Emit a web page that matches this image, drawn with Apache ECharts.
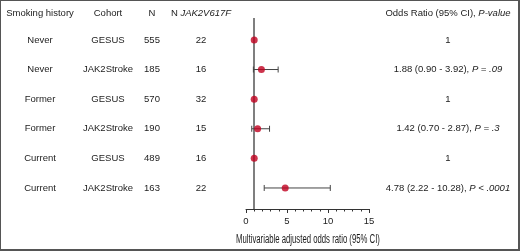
<!DOCTYPE html>
<html>
<head>
<meta charset="utf-8">
<script src="https://cdn.jsdelivr.net/npm/echarts@6/dist/echarts.min.js"></script>
<style>
  html, body { margin: 0; padding: 0; background: #fff; }
  #chart { width: 520px; height: 251px; }
  #frame { position: absolute; left: 0; top: 0; width: 520px; height: 251px; box-sizing: border-box;
           border: 1px solid #555; border-bottom-width: 2px; border-right-width: 2px; pointer-events: none; }
</style>
</head>
<body>
<div id="chart"></div>
<div id="frame"></div>
<script>
// table + forest data
var smoking = ['Never', 'Never', 'Former', 'Former', 'Current', 'Current'];
var cohorts = ['GESUS', 'JAK2Stroke', 'GESUS', 'JAK2Stroke', 'GESUS', 'JAK2Stroke'];
var nTotal = [555, 185, 570, 190, 489, 163];
var nMutant = [22, 16, 32, 15, 16, 22];
var oddsRatio = [1, 1.88, 1, 1.42, 1, 4.78];
var ciLow = [null, 0.90, null, 0.70, null, 2.22];
var ciHigh = [null, 3.92, null, 2.87, null, 10.28];
var pValues = [null, 'P = .09', null, 'P = .3', null, 'P < .0001'];
var xTicks = [0, 5, 10, 15];

var FONT = '"Liberation Sans", Arial, Helvetica, sans-serif';
var TEXT = '#222';
var colX = [40, 108, 152, 201, 448];

var chart = echarts.init(document.getElementById('chart'));

function orText(i) {
  if (ciLow[i] === null) return String(oddsRatio[i]);
  return oddsRatio[i].toFixed(2) + ' (' + ciLow[i].toFixed(2) + ' - ' + ciHigh[i].toFixed(2) + '), {i|' + pValues[i] + '}';
}

function txt(x, y, s) {
  return {
    type: 'text', x: x, y: y,
    style: {
      text: s, fill: TEXT, font: '9.5px ' + FONT, align: 'center', verticalAlign: 'middle',
      rich: { i: { fontStyle: 'italic', fontSize: 9.5, fontFamily: FONT, fill: TEXT } }
    }
  };
}

var rowIdx = smoking.map(function (s, i) { return i; });

var option = {
  animation: false,
  grid: { left: 246, right: 151, top: 18, bottom: 42 },
  xAxis: {
    type: 'value', min: 0, max: 15, interval: 5,
    axisLine: { show: true, onZero: false, lineStyle: { color: '#333', width: 1 } },
    axisTick: { show: true, length: 4, lineStyle: { color: '#333' } },
    minorTick: { show: true, splitNumber: 5, length: 2.5, lineStyle: { color: '#333' } },
    splitLine: { show: false },
    axisLabel: { color: TEXT, fontSize: 9.5, fontFamily: FONT, margin: 7,
      formatter: function (v) { return xTicks.indexOf(v) >= 0 ? String(v) : ''; } }
  },
  yAxis: { type: 'value', inverse: true, min: -0.74, max: 5.71, show: false },
  graphic: [
    txt(colX[0], 13, 'Smoking history'),
    txt(colX[1], 13, 'Cohort'),
    txt(colX[2], 13, 'N'),
    txt(colX[3], 13, 'N {i|JAK2V617F}'),
    txt(colX[4], 13, 'Odds Ratio (95% CI), {i|P-value}'),
    {
      // condensed axis title (no narrow font installed, so squeeze it)
      type: 'text', x: 308, y: 240, scaleX: 0.62,
      style: { text: 'Multivariable adjusted odds ratio (95% CI)', fill: '#1a1a1a',
        font: '12.5px ' + FONT, align: 'center', verticalAlign: 'middle' }
    }
  ],
  series: [
    {
      type: 'custom', clip: false, silent: true,
      data: rowIdx.map(function (i) { return [0, i]; }),
      renderItem: function (params, api) {
        var i = api.value(1);
        var y = api.coord([0, i])[1];
        return {
          type: 'group',
          children: [
            txt(colX[0], y, smoking[i]),
            txt(colX[1], y, cohorts[i]),
            txt(colX[2], y, String(nTotal[i])),
            txt(colX[3], y, String(nMutant[i])),
            txt(colX[4], y, orText(i))
          ]
        };
      }
    },
    {
      type: 'custom', silent: true, clip: false,
      data: rowIdx.filter(function (i) { return ciLow[i] !== null; })
                  .map(function (i) { return [ciLow[i], ciHigh[i], i]; }),
      renderItem: function (params, api) {
        var a = api.coord([api.value(0), api.value(2)]);
        var b = api.coord([api.value(1), api.value(2)]);
        var st = { stroke: '#444', lineWidth: 1 };
        return {
          type: 'group',
          children: [
            { type: 'line', shape: { x1: a[0], y1: a[1], x2: b[0], y2: b[1] }, style: st },
            { type: 'line', shape: { x1: a[0], y1: a[1] - 3, x2: a[0], y2: a[1] + 3 }, style: st },
            { type: 'line', shape: { x1: b[0], y1: b[1] - 3, x2: b[0], y2: b[1] + 3 }, style: st }
          ]
        };
      }
    },
    {
      type: 'scatter', symbolSize: 7, z: 5,
      itemStyle: { color: '#c0001f' },
      data: rowIdx.map(function (i) { return [oddsRatio[i], i]; }),
      markLine: {
        silent: true, symbol: 'none', label: { show: false }, z: 1,
        lineStyle: { color: '#555', width: 1.5, type: 'solid' },
        data: [{ xAxis: 1 }]
      }
    }
  ]
};

chart.setOption(option);
</script>
</body>
</html>
